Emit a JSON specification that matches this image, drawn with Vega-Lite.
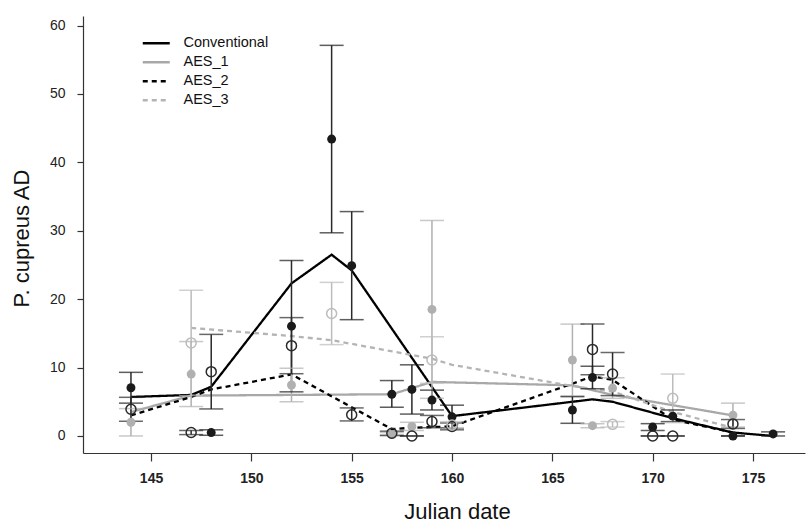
{
  "$schema": "https://vega.github.io/schema/vega-lite/v6.json",
  "width": 722,
  "height": 437,
  "autosize": {"type": "none"},
  "padding": {"left": 83, "top": 16, "right": 6, "bottom": 72},
  "background": "white",
  "config": {
    "view": {"stroke": null},
    "font": "Liberation Sans",
    "axis": {"grid": false, "domainColor": "#333333", "tickColor": "#333333", "labelColor": "#222222", "titleColor": "#111111", "labelFont": "Liberation Sans", "titleFont": "Liberation Sans", "titleFontWeight": "normal", "domainWidth": 1.2, "tickWidth": 1.2}
  },
  "datasets": {
    "lines": [
      {"series": "Conventional", "date": 144, "value": 5.7},
      {"series": "Conventional", "date": 147, "value": 6.0},
      {"series": "Conventional", "date": 148, "value": 7.2},
      {"series": "Conventional", "date": 152, "value": 22.3},
      {"series": "Conventional", "date": 154, "value": 26.5},
      {"series": "Conventional", "date": 155, "value": 24.2},
      {"series": "Conventional", "date": 160, "value": 2.9},
      {"series": "Conventional", "date": 167, "value": 5.35},
      {"series": "Conventional", "date": 168, "value": 5.0},
      {"series": "Conventional", "date": 171, "value": 2.6},
      {"series": "Conventional", "date": 174, "value": 0.5},
      {"series": "Conventional", "date": 176, "value": 0.0},
      {"series": "AES_1", "date": 144, "value": 3.5},
      {"series": "AES_1", "date": 147, "value": 5.9},
      {"series": "AES_1", "date": 157, "value": 6.1},
      {"series": "AES_1", "date": 159, "value": 7.9},
      {"series": "AES_1", "date": 166, "value": 7.4},
      {"series": "AES_1", "date": 168, "value": 6.0},
      {"series": "AES_1", "date": 174, "value": 3.0},
      {"series": "AES_2", "date": 144, "value": 3.0},
      {"series": "AES_2", "date": 147, "value": 5.7},
      {"series": "AES_2", "date": 148, "value": 6.8},
      {"series": "AES_2", "date": 152, "value": 9.0},
      {"series": "AES_2", "date": 157, "value": 1.0},
      {"series": "AES_2", "date": 158, "value": 1.2},
      {"series": "AES_2", "date": 160, "value": 1.4},
      {"series": "AES_2", "date": 167, "value": 8.7},
      {"series": "AES_2", "date": 168, "value": 8.2},
      {"series": "AES_2", "date": 171, "value": 2.4},
      {"series": "AES_2", "date": 174, "value": 0.5},
      {"series": "AES_3", "date": 147, "value": 15.8},
      {"series": "AES_3", "date": 152, "value": 14.6},
      {"series": "AES_3", "date": 154, "value": 14.0},
      {"series": "AES_3", "date": 159, "value": 11.3},
      {"series": "AES_3", "date": 160, "value": 10.4},
      {"series": "AES_3", "date": 166, "value": 7.3},
      {"series": "AES_3", "date": 168, "value": 6.5},
      {"series": "AES_3", "date": 171, "value": 3.5},
      {"series": "AES_3", "date": 174, "value": 1.2}
    ],
    "pts": [
      {"series": "Conventional", "date": 144, "value": 7.05, "lo": 4.8, "hi": 9.3},
      {"series": "Conventional", "date": 148, "value": 0.5, "lo": 0.1, "hi": 0.9},
      {"series": "Conventional", "date": 152, "value": 16.05, "lo": 6.45, "hi": 25.65},
      {"series": "Conventional", "date": 154, "value": 43.4, "lo": 29.7, "hi": 57.1},
      {"series": "Conventional", "date": 155, "value": 24.9, "lo": 17.0, "hi": 32.8},
      {"series": "Conventional", "date": 157, "value": 6.1, "lo": 4.2, "hi": 8.1},
      {"series": "Conventional", "date": 158, "value": 6.8, "lo": 3.2, "hi": 10.4},
      {"series": "Conventional", "date": 159, "value": 5.25, "lo": 3.8, "hi": 6.7},
      {"series": "Conventional", "date": 160, "value": 2.8, "lo": 1.1, "hi": 4.5},
      {"series": "Conventional", "date": 166, "value": 3.8, "lo": 1.85, "hi": 5.75},
      {"series": "Conventional", "date": 167, "value": 8.55, "lo": 6.9, "hi": 10.2},
      {"series": "Conventional", "date": 170, "value": 1.3, "lo": 0.8, "hi": 1.8},
      {"series": "Conventional", "date": 171, "value": 2.9, "lo": 2.1, "hi": 3.8},
      {"series": "Conventional", "date": 174, "value": 0.0, "lo": 0.0, "hi": 0.0},
      {"series": "Conventional", "date": 176, "value": 0.3, "lo": 0.0, "hi": 0.6},
      {"series": "AES_1", "date": 144, "value": 2.0, "lo": 0.0, "hi": 4.0},
      {"series": "AES_1", "date": 147, "value": 9.05, "lo": 4.3, "hi": 13.8},
      {"series": "AES_1", "date": 152, "value": 7.45, "lo": 5.0, "hi": 9.9},
      {"series": "AES_1", "date": 157, "value": 0.2, "lo": 0.0, "hi": 0.5},
      {"series": "AES_1", "date": 158, "value": 1.4, "lo": 0.8, "hi": 2.0},
      {"series": "AES_1", "date": 159, "value": 18.5, "lo": 5.5, "hi": 31.5},
      {"series": "AES_1", "date": 166, "value": 11.1, "lo": 5.85, "hi": 16.35},
      {"series": "AES_1", "date": 167, "value": 1.5, "lo": 1.2, "hi": 1.8},
      {"series": "AES_1", "date": 168, "value": 7.0, "lo": 5.5, "hi": 8.5},
      {"series": "AES_1", "date": 174, "value": 3.05, "lo": 1.3, "hi": 4.8},
      {"series": "AES_2", "date": 144, "value": 3.9, "lo": 2.15, "hi": 5.65},
      {"series": "AES_2", "date": 147, "value": 0.5, "lo": 0.2, "hi": 0.8},
      {"series": "AES_2", "date": 148, "value": 9.4, "lo": 3.95, "hi": 14.85},
      {"series": "AES_2", "date": 152, "value": 13.2, "lo": 9.1, "hi": 17.3},
      {"series": "AES_2", "date": 155, "value": 3.1, "lo": 2.2, "hi": 4.1},
      {"series": "AES_2", "date": 157, "value": 0.4, "lo": 0.1, "hi": 0.7},
      {"series": "AES_2", "date": 158, "value": 0.0, "lo": 0.0, "hi": 0.0},
      {"series": "AES_2", "date": 159, "value": 2.1, "lo": 1.2, "hi": 3.0},
      {"series": "AES_2", "date": 160, "value": 1.4, "lo": 0.9, "hi": 1.9},
      {"series": "AES_2", "date": 167, "value": 12.65, "lo": 8.95, "hi": 16.35},
      {"series": "AES_2", "date": 168, "value": 9.05, "lo": 5.9, "hi": 12.2},
      {"series": "AES_2", "date": 170, "value": 0.0, "lo": 0.0, "hi": 0.0},
      {"series": "AES_2", "date": 171, "value": 0.0, "lo": 0.0, "hi": 0.0},
      {"series": "AES_2", "date": 174, "value": 1.75, "lo": 1.1, "hi": 2.4},
      {"series": "AES_3", "date": 147, "value": 13.6, "lo": 5.9, "hi": 21.3},
      {"series": "AES_3", "date": 154, "value": 17.9, "lo": 13.35, "hi": 22.45},
      {"series": "AES_3", "date": 159, "value": 11.1, "lo": 7.7, "hi": 14.5},
      {"series": "AES_3", "date": 160, "value": 1.6, "lo": 1.1, "hi": 2.1},
      {"series": "AES_3", "date": 168, "value": 1.7, "lo": 1.3, "hi": 2.1},
      {"series": "AES_3", "date": 171, "value": 5.5, "lo": 1.95, "hi": 9.05}
    ]
  },
  "encoding": {
    "x": {"field": "date", "type": "quantitative", "scale": {"domain": [141.61, 177.59], "nice": false, "zero": false},
      "axis": {"values": [145, 150, 155, 160, 165, 170, 175], "title": "Julian date", "titleFontSize": 22, "titleX": 374, "titleY": 65, "titleBaseline": "alphabetic", "titleAlign": "center", "labelFontSize": 14, "labelFontWeight": "bold", "tickSize": 8, "labelPadding": 10}},
    "y": {"type": "quantitative", "scale": {"domain": [-2.49, 61.39], "nice": false, "zero": false},
      "axis": {"values": [0, 10, 20, 30, 40, 50, 60], "title": "P. cupreus AD", "titleFontSize": 22, "titleX": -55, "titleY": 222, "titleAngle": -90, "titleBaseline": "alphabetic", "titleAlign": "center", "labelFontSize": 14, "tickSize": 6, "labelPadding": 12}}
  },
  "layer": [
    {
      "data": {"name": "lines"},
      "mark": {"type": "line", "strokeWidth": 2.3},
      "encoding": {
        "y": {"field": "value", "type": "quantitative"},
        "color": {"field": "series", "type": "nominal", "title": null, "scale": {"domain": ["Conventional", "AES_1", "AES_2", "AES_3"], "range": ["#000000", "#a8a8a8", "#000000", "#b4b4b4"]},
          "legend": {"orient": "none", "legendX": 66, "legendY": 20, "padding": 0, "symbolType": "M-3,0H3", "symbolSize": 81, "symbolStrokeWidth": 2.5, "labelFontSize": 14.5, "labelFont": "Liberation Sans", "labelColor": "#111111", "rowPadding": 4, "labelOffset": 20}},
        "strokeDash": {"field": "series", "type": "nominal", "title": null, "scale": {"domain": ["Conventional", "AES_1", "AES_2", "AES_3"], "range": [[1, 0], [1, 0], [5, 4], [5, 4]]}}
      }
    },
    {
      "data": {"name": "pts"},
      "mark": {"type": "rule", "strokeWidth": 1.5},
      "encoding": {
        "y": {"field": "lo", "type": "quantitative"},
        "y2": {"field": "hi"},
        "stroke": {"field": "series", "type": "nominal", "legend": null, "scale": {"domain": ["AES_1", "AES_2", "AES_3", "Conventional"], "range": ["#b0b0b0", "#2a2a2a", "#bcbcbc", "#2a2a2a"]}}
      }
    },
    {
      "data": {"name": "pts"},
      "mark": {"type": "tick", "orient": "horizontal", "size": 24, "thickness": 1.5},
      "encoding": {
        "y": {"field": "lo", "type": "quantitative"},
        "fill": {"field": "series", "type": "nominal", "legend": null, "scale": {"domain": ["AES_1", "AES_2", "AES_3", "Conventional"], "range": ["#b0b0b0", "#2a2a2a", "#bcbcbc", "#1a1a1a"]}}
      }
    },
    {
      "data": {"name": "pts"},
      "mark": {"type": "tick", "orient": "horizontal", "size": 24, "thickness": 1.5},
      "encoding": {
        "y": {"field": "hi", "type": "quantitative"},
        "fill": {"field": "series", "type": "nominal", "legend": null}
      }
    },
    {
      "data": {"name": "pts"},
      "transform": [{"filter": "datum.series === 'Conventional' || datum.series === 'AES_1'"}],
      "mark": {"type": "point", "shape": "circle", "filled": true, "size": 80, "opacity": 1},
      "encoding": {
        "y": {"field": "value", "type": "quantitative"},
        "fill": {"field": "series", "type": "nominal", "legend": null}
      }
    },
    {
      "data": {"name": "pts"},
      "transform": [{"filter": "datum.series === 'AES_2' || datum.series === 'AES_3'"}],
      "mark": {"type": "point", "shape": "circle", "filled": false, "size": 100, "strokeWidth": 1.5, "opacity": 1},
      "encoding": {
        "y": {"field": "value", "type": "quantitative"},
        "stroke": {"field": "series", "type": "nominal", "legend": null}
      }
    }
  ]
}
